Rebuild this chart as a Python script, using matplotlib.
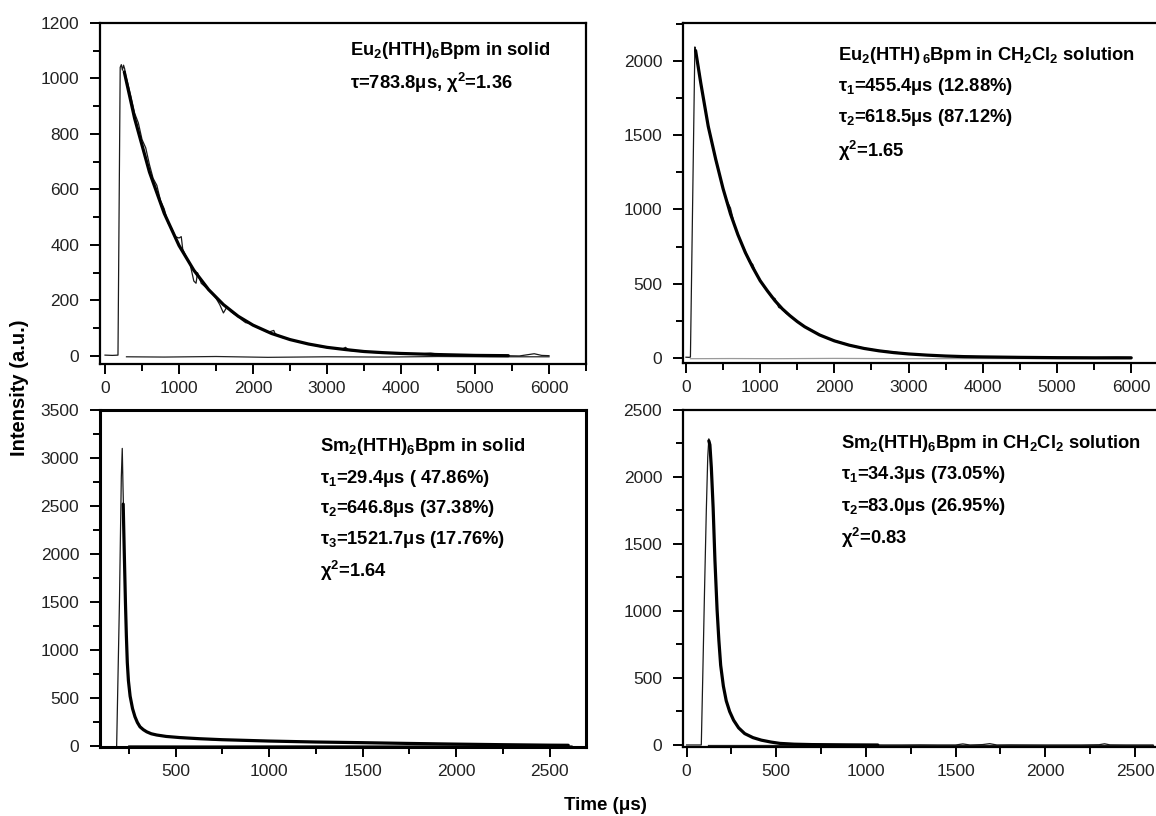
import matplotlib
matplotlib.use("Agg")
import matplotlib.pyplot as plt
from matplotlib.ticker import MultipleLocator

plt.rcParams['font.family'] = ['Liberation Sans', 'DejaVu Sans']
plt.rcParams['mathtext.fontset'] = 'custom'
plt.rcParams['mathtext.rm'] = 'Liberation Sans'
plt.rcParams['mathtext.bf'] = 'Liberation Sans:bold'
plt.rcParams['mathtext.it'] = 'Liberation Sans:italic'
plt.rcParams['mathtext.default'] = 'bf'

# ---------------- Data ----------------
# Top-left: Eu2(HTH)6Bpm in solid
tl_data_t = [0, 100, 175, 205, 220, 235, 250, 265, 280, 300, 350, 400, 450, 500, 550, 600, 650,
             700, 750, 800, 850, 900, 950, 1000, 1030, 1050, 1100, 1150, 1200, 1230, 1250, 1300,
             1350, 1400, 1450, 1500, 1550, 1600, 1650, 1700, 1750, 1800, 1850, 1900, 1950, 2000,
             2100, 2200, 2280, 2300, 2400, 2500, 2600, 2700, 2800, 2900, 3000, 3100, 3200, 3250,
             3300, 3400, 3500, 3600, 3700, 3800, 3900, 4000, 4200, 4400, 4600, 4800, 5000, 5200,
             5400, 5600, 5800, 5900, 6000]
tl_data_y = [3, 2, 3, 1040, 1050, 1030, 1048, 1035, 1010, 990, 935, 875, 840, 780, 750, 690, 640,
             615, 560, 530, 480, 460, 430, 425, 430, 385, 355, 330, 270, 262, 300, 262,
             250, 238, 225, 208, 185, 155, 178, 160, 150, 143, 130, 120, 118, 110,
             98, 85, 92, 80, 66, 60, 52, 46, 40, 34, 30, 28, 24, 31,
             20, 17, 15, 13, 12, 10, 9, 8, 6, 10, 4, 3, 2, 2,
             1, 0, 8, 2, 1]
tl_fit_t = [260, 400, 600, 800, 1000, 1200, 1400, 1600, 1800, 2000, 2250, 2500, 2750, 3000,
            3250, 3500, 3750, 4000, 4500, 5000, 5450]
tl_fit_y = [1024, 856, 663, 514, 398, 309, 239, 185, 143, 111, 81, 59, 43, 31,
            23, 16, 12, 9, 5, 2, 1]
tl_base_t = [290, 800, 1500, 2200, 3000, 3800, 4500, 5200, 6000]
tl_base_y = [-3, -4, -2, -5, -3, -4, -2, -3, -3]

# Top-right: Eu2(HTH)6Bpm in CH2Cl2 solution
tr_data_t = [0, 40, 60, 120, 135, 160, 200, 250, 300, 350, 400, 450, 500, 550, 600, 650, 700, 750,
             800, 850, 900, 950, 1000, 1050, 1100, 1150, 1200, 1250, 1300, 1350, 1400, 1500, 1600,
             1700, 1800, 1900, 2000, 2200, 2400, 2600, 2800, 3000, 3200, 3400, 3600, 3800, 4000,
             4300, 4600, 4900, 5200, 5500, 5800, 6000]
tr_data_y = [5, 4, 6, 2095, 2040, 1990, 1860, 1700, 1570, 1450, 1330, 1240, 1135, 1060, 1010, 905,
             835, 770, 720, 650, 630, 560, 525, 480, 455, 410, 400, 340, 330, 300, 285, 245, 212,
             185, 158, 132, 118, 88, 66, 50, 40, 27, 22, 15, 12, 10, 8,
             6, 4, 3, 3, 2, 4, 2]
tr_fit_t = [130, 200, 300, 400, 500, 600, 700, 800, 900, 1000, 1100, 1200, 1300, 1400, 1500,
            1600, 1800, 2000, 2200, 2400, 2600, 2800, 3000, 3250, 3500, 3750, 4000, 4500, 5000,
            5500, 6000]
tr_fit_y = [2070, 1850, 1560, 1340, 1140, 970, 830, 710, 610, 520, 450, 385, 330, 285, 245,
            210, 155, 115, 86, 64, 48, 36, 27, 19, 13, 9, 7, 4, 2,
            1, 1]
tr_base_t = [60, 600, 1200, 2000, 3000, 4000, 5000, 6000]
tr_base_y = [-5, -4, -5, -3, -5, -4, -5, -5]

# Bottom-left: Sm2(HTH)6Bpm in solid
bl_data_t = [185, 200, 210, 215, 219, 222, 226, 232, 237, 242, 248, 257, 270, 283, 296, 310, 328,
             346, 370, 399, 420, 450, 500, 550, 600, 700, 800, 900, 1000, 1100, 1200, 1300, 1400,
             1500, 1600, 1700, 1800, 1900, 2000, 2100, 2200, 2300, 2400, 2500, 2550, 2600]
bl_data_y = [0, 1500, 2800, 3100, 2700, 2450, 2020, 1480, 1160, 860, 690, 520, 395, 310, 250, 205,
             172, 150, 130, 118, 112, 102, 94, 88, 80, 66, 60, 56, 52, 48, 45, 42, 38,
             35, 32, 30, 27, 25, 21, 19, 16, 14, 12, 9, 11, 8]
bl_fit_t = [220, 226, 232, 237, 242, 248, 257, 270, 283, 296, 310, 328, 346, 370, 399, 450, 524,
            631, 750, 1000, 1250, 1500, 1750, 2000, 2250, 2500, 2600]
bl_fit_y = [2520, 2000, 1500, 1150, 870, 680, 520, 390, 305, 245, 200, 170, 148, 128, 115, 100, 88,
            76, 66, 52, 42, 35, 27, 20, 14, 9, 8]
bl_base_t = [250, 700, 1200, 1700, 2200, 2620]
bl_base_y = [3, 2, 3, 2, 3, 2]

# Bottom-right: Sm2(HTH)6Bpm in CH2Cl2 solution
br_data_t = [0, 82, 90, 100, 110, 118, 124, 130, 138, 148, 158, 170, 180, 190, 205, 221, 240, 262,
             290, 324, 370, 417, 470, 520, 600, 700, 800, 900, 1000, 1100, 1200, 1300, 1400, 1500,
             1540, 1580, 1650, 1690, 1730, 1800, 2000, 2200, 2300, 2330, 2360, 2450, 2600]
br_data_y = [0, 0, 500, 1150, 1750, 2150, 2285, 2250, 2080, 1780, 1380, 1010, 780, 595, 440, 330,
             250, 185, 128, 85, 55, 36, 22, 12, 6, 3, 2, 1, 1, 0, 0, 1, 0, 0,
             8, 0, 3, 10, 0, 1, 0, 0, 2, 9, 1, 0, 0]
br_fit_t = [124, 130, 138, 148, 158, 170, 180, 190, 205, 221, 240, 262, 290, 324, 370, 417, 470,
            520, 600, 700, 800, 900, 1066]
br_fit_y = [2270, 2240, 2070, 1770, 1380, 1010, 780, 595, 440, 330, 250, 185, 128, 85, 55, 36, 22,
            12, 6, 3, 2, 1, 0]
br_base_t = [120, 600, 1100, 1600, 2100, 2600]
br_base_y = [0, 0, 0, 0, 0, 0]

# Annotation texts
tl_text = [r"Eu$_{2}$(HTH)$_{6}$Bpm in solid", r"τ=783.8μs, χ$^{2}$=1.36"]
tr_text = [r"Eu$_{2}$(HTH)$\,_{6}$Bpm in CH$_{2}$Cl$_{2}$ solution",
           r"τ$_{1}$=455.4μs (12.88%)", r"τ$_{2}$=618.5μs (87.12%)", r"χ$^{2}$=1.65"]
bl_text = [r"Sm$_{2}$(HTH)$_{6}$Bpm in solid", r"τ$_{1}$=29.4μs ( 47.86%)",
           r"τ$_{2}$=646.8μs (37.38%)", r"τ$_{3}$=1521.7μs (17.76%)", r"χ$^{2}$=1.64"]
br_text = [r"Sm$_{2}$(HTH)$_{6}$Bpm in CH$_{2}$Cl$_{2}$ solution",
           r"τ$_{1}$=34.3μs (73.05%)", r"τ$_{2}$=83.0μs (26.95%)", r"χ$^{2}$=0.83"]

# ---------------- Figure ----------------
W, H = 1156, 816
fig = plt.figure(figsize=(W / 100, H / 100), dpi=100)


def axes_px(l, r, t, b):
    return fig.add_axes([l / W, 1 - b / H, (r - l) / W, (b - t) / H])


panels = [
    dict(box=(100, 586, 23, 364), xlim=(-68, 6500), ylim=(-29, 1200), xmaj=1000, xmin=500,
         ymaj=200, ymin=100, data=(tl_data_t, tl_data_y), fit=(tl_fit_t, tl_fit_y),
         base=(tl_base_t, tl_base_y), basec='#222222', text=tl_text, tx=0.514,
         ty=[0.918, 0.824], right=True, sw=1.6),
    dict(box=(683, 1156, 23, 363), xlim=(-40, 6334), ylim=(-34, 2256), xmaj=1000, xmin=500,
         ymaj=500, ymin=250, data=(tr_data_t, tr_data_y), fit=(tr_fit_t, tr_fit_y),
         base=(tr_base_t, tr_base_y), basec='#9a9a9a', text=tr_text, tx=0.328,
         ty=[0.903, 0.812, 0.721, 0.623], right=False, sw=1.6),
    dict(box=(100, 586, 410, 747), xlim=(96, 2695), ylim=(-10, 3500), xmaj=500, xmin=250,
         ymaj=500, ymin=250, data=(bl_data_t, bl_data_y), fit=(bl_fit_t, bl_fit_y),
         base=(bl_base_t, bl_base_y), basec='#444444', text=bl_text, tx=0.453,
         ty=[0.893, 0.798, 0.709, 0.617, 0.522], right=True, sw=2.2),
    dict(box=(683, 1156, 410, 747), xlim=(-20, 2617), ylim=(-15, 2500), xmaj=500, xmin=250,
         ymaj=500, ymin=250, data=(br_data_t, br_data_y), fit=(br_fit_t, br_fit_y),
         base=(br_base_t, br_base_y), basec='#222222', text=br_text, tx=0.334,
         ty=[0.902, 0.810, 0.715, 0.620], right=False, sw=1.6),
]

for p in panels:
    ax = axes_px(*p['box'])
    ax.plot(*p['base'], color=p['basec'], lw=0.9, solid_joinstyle='round')
    ax.plot(*p['data'], color='#1a1a1a', lw=0.9)
    ax.plot(*p['fit'], color='black', lw=2.3, solid_capstyle='round')
    ax.set_xlim(*p['xlim'])
    ax.set_ylim(*p['ylim'])
    ax.xaxis.set_major_locator(MultipleLocator(p['xmaj']))
    ax.xaxis.set_minor_locator(MultipleLocator(p['xmin']))
    ax.yaxis.set_major_locator(MultipleLocator(p['ymaj']))
    ax.yaxis.set_minor_locator(MultipleLocator(p['ymin']))
    ax.tick_params(which='both', direction='out', width=1.4, colors='black')
    ax.tick_params(which='major', length=7, labelsize=12.5, labelcolor='#222222')
    ax.tick_params(which='minor', length=5)
    ax.tick_params(axis='y', which='major', pad=8)
    ax.tick_params(axis='x', which='major', pad=5)
    for s in ax.spines.values():
        s.set_linewidth(p['sw'])
    ax.spines['right'].set_visible(p['right'])
    for txt, yy in zip(p['text'], p['ty']):
        ax.text(p['tx'], yy, txt, transform=ax.transAxes, fontsize=13.2, fontweight='bold',
                ha='left', va='center')

fig.text(20 / W, 1 - 388 / H, "Intensity (a.u.)", rotation=90, ha='center', va='center',
         fontsize=14.5, fontweight='bold')
fig.text(605 / W, 1 - 805 / H, "Time (μs)", ha='center', va='center',
         fontsize=13.5, fontweight='bold')

fig.savefig("out.png", dpi=100)
